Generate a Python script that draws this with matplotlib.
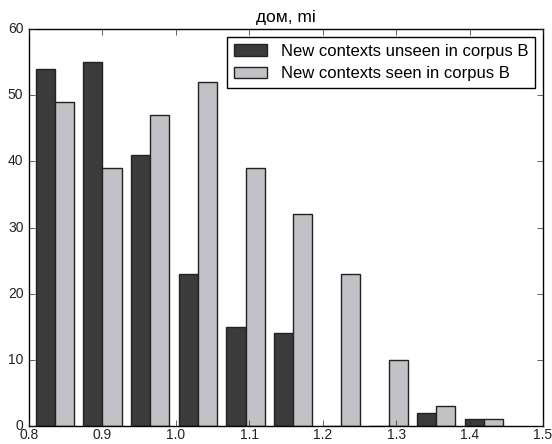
import numpy as np
import matplotlib
matplotlib.use("Agg")
import matplotlib.pyplot as plt

# bin edges of the histogram (10 bins)
bin_lo = 0.8027
bin_hi = 1.452
n_bins = 10
unseen = [54, 55, 41, 23, 15, 14, 0, 0, 2, 1]
seen = [49, 39, 47, 52, 39, 32, 23, 10, 3, 1]
labels = ["New contexts unseen in corpus B", "New contexts seen in corpus B"]
colors = ["#3b3b3b", "#c2c2c6"]

plt.style.use("classic")
plt.rcParams["font.family"] = ["Liberation Sans", "DejaVu Sans"]

edges = np.linspace(bin_lo, bin_hi, n_bins + 1)
centers = (edges[:-1] + edges[1:]) / 2

fig = plt.figure(figsize=(5.52, 4.44), dpi=100, facecolor="white")
ax = fig.add_axes([0.0525, 0.0405, 0.9312, 0.8942])
ax.hist([centers, centers], bins=edges, weights=[unseen, seen],
        color=colors, label=labels, edgecolor="#222222", linewidth=1.0)

ax.set_xlim(0.8, 1.5)
ax.set_ylim(0, 60)
ax.set_xticks(np.arange(0.8, 1.51, 0.1))
ax.set_xticklabels(["%.1f" % t for t in np.arange(0.8, 1.51, 0.1)])
ax.set_yticks(range(0, 61, 10))
ax.tick_params(labelsize=10, colors="#222222")
ax.tick_params(axis="x", pad=1.5)
ax.set_title("дом, mi", fontsize=12.5, y=1.0)
leg = ax.legend(loc="upper right", fontsize=12, handlelength=2.0,
                handletextpad=0.8, labelspacing=0.45, borderpad=0.4,
                borderaxespad=0.5, frameon=True, fancybox=False)
leg.get_frame().set_linewidth(1.0)

fig.savefig("out.png", dpi=100, facecolor="white")
